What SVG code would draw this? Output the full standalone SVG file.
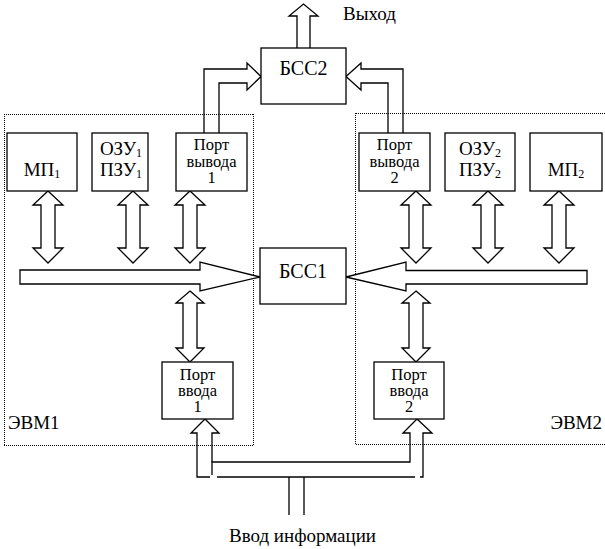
<svg xmlns="http://www.w3.org/2000/svg" width="605" height="549" viewBox="0 0 605 549">
<style>
  .box { fill: #fff; stroke: #000; stroke-width: 1.3; }
  .ln { fill: none; stroke: #000; stroke-width: 1.3; }
  .ar { fill: #fff; stroke: #000; stroke-width: 1.3; stroke-linejoin: miter; }
  .frame { fill: none; stroke: #000; stroke-width: 1; stroke-dasharray: 1 1; }
  text { font-family: "Liberation Serif", "Times New Roman", serif; fill: #000; }
  .t17 { font-size: 16.5px; text-anchor: middle; }
  .t19 { font-size: 19px; text-anchor: middle; }
  .t20 { font-size: 20px; text-anchor: middle; }
  .sub { font-size: 12px; }
</style>
<rect width="605" height="549" fill="#fff"/>
<g id="frames">
  <path class="frame" d="M4,114.5 H254 M253.5,114 V446 M4,445.5 H254 M4.5,114 V446"/>
  <path class="frame" d="M356,113.5 H606 M355.5,113 V445 M356,444.5 H606"/>
</g>
<g id="connectors">
  <path class="ar" d="M297,48 V16 H289 L303.5,4 L318,16 H310 V48"/>
  <path class="ln" d="M204,133 V69 H247 V63 L261,76.5 L247,90 V83 H219 V133"/>
  <path class="ln" d="M403,133 V69 H361 V63 L346,76.5 L361,90 V83 H388 V133"/>
  <path class="ar" d="M48,191 L63,205 H55 V248 H63 L48,263 L33,248 H41 V205 H33 Z"/>
  <path class="ar" d="M133,191 L148,205 H140 V248 H148 L133,263 L118,248 H126 V205 H118 Z"/>
  <path class="ar" d="M190,191 L205,205 H197 V248 H205 L190,263 L175,248 H183 V205 H175 Z"/>
  <path class="ar" d="M416,191 L431,205 H423 V248 H431 L416,263 L401,248 H409 V205 H401 Z"/>
  <path class="ar" d="M488,191 L503,205 H495 V248 H503 L488,263 L473,248 H481 V205 H473 Z"/>
  <path class="ar" d="M559,191 L574,205 H566 V248 H574 L559,263 L544,248 H552 V205 H544 Z"/>
  <path class="ar" d="M20,270 H200 V262 L260,277 L200,291 V284 H20 Z"/>
  <path class="ar" d="M587,270.5 H406 V262 L346,277 L406,291 V284 H587 Z"/>
  <path class="ar" d="M190,291 L204,303 H197 V348 H204 L190,362 L176,348 H183 V303 H176 Z"/>
  <path class="ar" d="M416,291 L430,303 H423 V348 H430 L416,362 L402,348 H409 V303 H402 Z"/>
  <path class="ln" d="M212,475 V462 H410 V433 H403 L417,419 L432,433 H423 V477 H420"/>
  <path class="ln" d="M415,477 H217"/>
  <path class="ln" d="M210,477 H197 V433 H191 L205,419 L219,433 H212 V462"/>
  <path class="ln" d="M289,477 V515 M304,477 V515"/>
</g>
<g id="bss2">
  <rect class="box" x="261" y="48" width="85" height="56"/>
  <text class="t20" x="303.5" y="75">БСС2</text>
</g>
<g id="vyhod"><text x="343" y="20" style="font-size:19px">Выход</text></g>
<g id="mp1">
  <rect class="box" x="7" y="133" width="70" height="58"/>
  <text class="t19" x="42" y="176">МП<tspan class="sub" dy="2">1</tspan></text>
</g>
<g id="ozu1">
  <rect class="box" x="92" y="133" width="56" height="58"/>
  <text class="t19" x="121" y="155">ОЗУ<tspan class="sub" dy="2">1</tspan></text>
  <text class="t19" x="121" y="176">ПЗУ<tspan class="sub" dy="2">1</tspan></text>
</g>
<g id="port-out1">
  <rect class="box" x="176" y="133" width="71" height="58"/>
  <text class="t17" x="211.5" y="150">Порт</text>
  <text class="t17" x="211.5" y="166.5">вывода</text>
  <text class="t17" x="211.5" y="183">1</text>
</g>
<g id="port-out2">
  <rect class="box" x="359" y="133" width="71" height="58"/>
  <text class="t17" x="394.5" y="150">Порт</text>
  <text class="t17" x="394.5" y="166.5">вывода</text>
  <text class="t17" x="394.5" y="183">2</text>
</g>
<g id="ozu2">
  <rect class="box" x="445" y="133" width="70" height="58"/>
  <text class="t19" x="480" y="155">ОЗУ<tspan class="sub" dy="2">2</tspan></text>
  <text class="t19" x="480" y="176">ПЗУ<tspan class="sub" dy="2">2</tspan></text>
</g>
<g id="mp2">
  <rect class="box" x="530" y="133" width="72" height="58"/>
  <text class="t19" x="566" y="176">МП<tspan class="sub" dy="2">2</tspan></text>
</g>
<g id="bss1">
  <rect class="box" x="260" y="248" width="86" height="56"/>
  <text class="t20" x="303" y="278">БСС1</text>
</g>
<g id="port-in1">
  <rect class="box" x="162" y="362" width="71" height="57"/>
  <text class="t17" x="197.5" y="380">Порт</text>
  <text class="t17" x="197.5" y="395.5">ввода</text>
  <text class="t17" x="197.5" y="411.5">1</text>
</g>
<g id="port-in2">
  <rect class="box" x="374" y="362" width="70" height="57"/>
  <text class="t17" x="409" y="380">Порт</text>
  <text class="t17" x="409" y="395.5">ввода</text>
  <text class="t17" x="409" y="411.5">2</text>
</g>
<g id="evm1"><text x="8" y="429" style="font-size:19px">ЭВМ1</text></g>
<g id="evm2"><text x="602" y="429" style="font-size:19px;text-anchor:end">ЭВМ2</text></g>
<g id="vvod"><text class="t19" x="302.5" y="542">Ввод информации</text></g>
</svg>
